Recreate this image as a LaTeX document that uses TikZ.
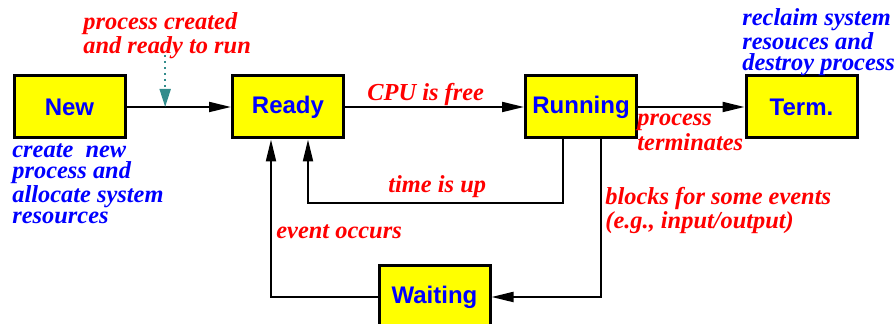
\documentclass[tikz,border=0pt]{standalone}
\usepackage{fontspec}
\setmainfont{Liberation Serif}
\setsansfont{Liberation Sans}
\usetikzlibrary{arrows.meta}
\definecolor{BoxYellow}{RGB}{255,255,0}
\definecolor{NoteTeal}{RGB}{50,140,140}
\tikzset{
    state/.style={draw=black,line width=1.5pt,fill=BoxYellow,minimum width=55.5pt,minimum height=31pt,inner sep=0pt,text=blue,font=\sffamily\bfseries\fontsize{12}{14}\selectfont},
    link/.style={line width=1pt,-{Triangle[length=11pt,width=5pt]}},
    note/.style={inner sep=0pt,align=left,text=red,font=\bfseries\itshape\fontsize{12.2}{10.5}\selectfont},
    remark/.style={note,text=blue},
}

\begin{document}
\begin{tikzpicture}[x=0.5pt,y=-0.5pt]
    \useasboundingbox (0,0) rectangle (896,324);
    \node[state] (New) at (69.5,107) {New};
    \node[state] (Ready) at (288,107) {Ready};
    \node[state] (Running) at (581,107) {Running};
    \node[state] (Term) at (801.5,107) {Term.};
    \node[state] (Waiting) at (434.5,297) {Waiting};
    \draw[link] (New) -- coordinate[pos=0.37] (Spawn) (Ready);
    \draw[link] (Ready) -- (Running);
    \draw[link] (Running) -- (Term);
    \draw[link] ([xshift=-9pt]Running.south) -- ++(0,64) -| ([xshift=10pt]Ready.south);
    \draw[link] ([xshift=10pt]Running.south) |- (Waiting.east);
    \draw[link] (Waiting.west) -| ([xshift=-8.5pt]Ready.south);
    \path (Spawn) ++(0,-52) coordinate (SpawnNote);
    \draw[NoteTeal,line width=1pt,dotted,-{Triangle[length=9pt,width=5.5pt]}] (SpawnNote) -- (Spawn);
    \node[note,anchor=north west] (CreatedText) at (83,12) {process created\\and ready to run};
    \node[note,anchor=base west] (FreeText) at (367,101) {CPU is free};
    \node[note,anchor=base west] (UpText) at (388,193) {time is up};
    \node[note,anchor=base west] (OccursText) at (276,239) {event occurs};
    \node[note,anchor=north west] (ExitText) at (637,114) {process\\terminates};
    \node[note,anchor=north west] (BlockText) at (605,187) {blocks for some events\\(e.g., input/output)};
    \node[remark,anchor=north west] (NewText) at (12,143) {create\ \ new\\process and\\allocate system\\resources};
    \node[remark,anchor=north west] (TermText) at (742,8) {reclaim system\\resouces and\\destroy process};
\end{tikzpicture}
\end{document}
